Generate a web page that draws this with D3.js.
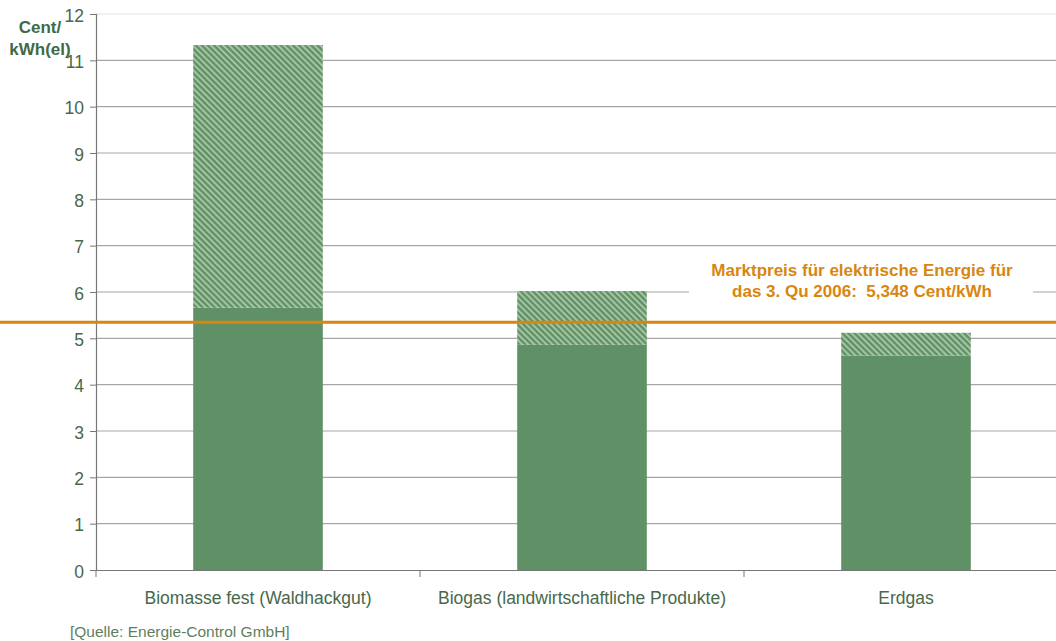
<!DOCTYPE html>
<html><head><meta charset="utf-8">
<script src="https://cdn.jsdelivr.net/npm/d3@7/dist/d3.min.js"></script>
<style>body{margin:0;background:#fff;}svg{display:block;} svg text{font-family:Arial,"Liberation Sans",Helvetica,sans-serif;}</style>
</head><body><svg id="c" width="1056" height="641"></svg>
<script>
const categories = ["Biomasse fest (Waldhackgut)", "Biogas (landwirtschaftliche Produkte)", "Erdgas"];
const baseValues = [5.66, 4.86, 4.63];
const extraValues = [5.67, 1.16, 0.49];
const yTicks = [0,1,2,3,4,5,6,7,8,9,10,11,12];
const marketPrice = 5.348;
const annotationLines = ["Marktpreis für elektrische Energie für", "das 3. Qu 2006:  5,348 Cent/kWh"];
const yLabelLines = ["Cent/", "kWh(el)"];
const sourceText = "[Quelle: Energie-Control GmbH]";

const svg = d3.select("#c");
const x = d3.scaleBand().domain(categories).range([96, 1068]).paddingInner(0).paddingOuter(0);
const y = d3.scaleLinear().domain([0, 12]).range([570, 14]);
const barW = x.bandwidth() * 0.4;

const defs = svg.append("defs");
const pat = defs.append("pattern").attr("id","hatch").attr("patternUnits","userSpaceOnUse")
  .attr("width",4.3).attr("height",4.3).attr("patternTransform","rotate(-45)");
pat.append("rect").attr("width",4.3).attr("height",4.3).attr("fill","#5f9066");
pat.append("rect").attr("x",0).attr("width",2).attr("height",4.3).attr("fill","#a6c6a3");

// gridlines
svg.append("g").selectAll("line").data(yTicks.filter(d=>d>0)).join("line")
  .attr("x1",96).attr("x2",1056).attr("y1",d=>y(d)).attr("y2",d=>y(d))
  .attr("stroke",d=>d===12?"#e2e2e2":"#a6a6a6").attr("stroke-width",1.2);

// bars
const g = svg.append("g");
g.selectAll(".base").data(categories).join("rect")
  .attr("x",d=>x(d)+x.bandwidth()/2-barW/2).attr("width",barW)
  .attr("y",(d,i)=>y(baseValues[i])).attr("height",(d,i)=>y(0)-y(baseValues[i]))
  .attr("fill","#5f9066");
g.selectAll(".extra").data(categories).join("rect")
  .attr("x",d=>x(d)+x.bandwidth()/2-barW/2).attr("width",barW)
  .attr("y",(d,i)=>y(baseValues[i]+extraValues[i])).attr("height",(d,i)=>y(baseValues[i])-y(baseValues[i]+extraValues[i]))
  .attr("fill","url(#hatch)");

// axes
const yAxis = d3.axisLeft(y).tickValues(yTicks).tickSize(6).tickPadding(6).tickFormat(d3.format("d"));
const ya = svg.append("g").attr("transform","translate(96,0)").call(yAxis);
ya.attr("font-family",null).attr("font-size",null);
ya.select(".domain").attr("stroke","#777").attr("stroke-width",1.2);
ya.selectAll(".tick line").attr("stroke","#777");
ya.selectAll("text").attr("fill","#48684b").style("font-size","17.5px").attr("dy","0.4em");

const xa = svg.append("g").attr("transform","translate(0,570)")
  .call(d3.axisBottom(x).tickSize(0).tickPadding(22));
xa.attr("font-family",null).attr("font-size",null);
xa.select(".domain").remove();
xa.selectAll("text").attr("fill","#48684b").style("font-size","17.5px");
svg.append("line").attr("x1",96).attr("x2",1056).attr("y1",570.5).attr("y2",570.5).attr("stroke","#777").attr("stroke-width",1.2);
svg.append("g").selectAll("line").data(categories).join("line")
  .attr("x1",d=>x(d)).attr("x2",d=>x(d)).attr("y1",570).attr("y2",577).attr("stroke","#777");

// market price line
svg.append("line").attr("x1",0).attr("x2",1056).attr("y1",y(marketPrice)).attr("y2",y(marketPrice))
  .attr("stroke","#d8860f").attr("stroke-width",3);

// annotation
svg.append("rect").attr("x",689).attr("y",256).attr("width",344).attr("height",46).attr("fill","#fff");
svg.append("text").attr("x",862).attr("y",276).attr("text-anchor","middle")
  .attr("fill","#d8860f").attr("font-weight","bold").style("font-size","17px").style("white-space","pre")
  .selectAll("tspan").data(annotationLines).join("tspan").attr("x",862).attr("dy",(d,i)=>i?21:0).text(d=>d);

// y label
svg.append("text").attr("x",40).attr("y",33).attr("text-anchor","middle")
  .attr("fill","#3f6a45").attr("font-weight","bold").style("font-size","17px")
  .selectAll("tspan").data(yLabelLines).join("tspan").attr("x",40).attr("dy",(d,i)=>i?22:0).text(d=>d);

// source
svg.append("text").attr("x",70).attr("y",637).attr("fill","#5d7f60").style("font-size","15.5px").text(sourceText);
</script></body></html>
